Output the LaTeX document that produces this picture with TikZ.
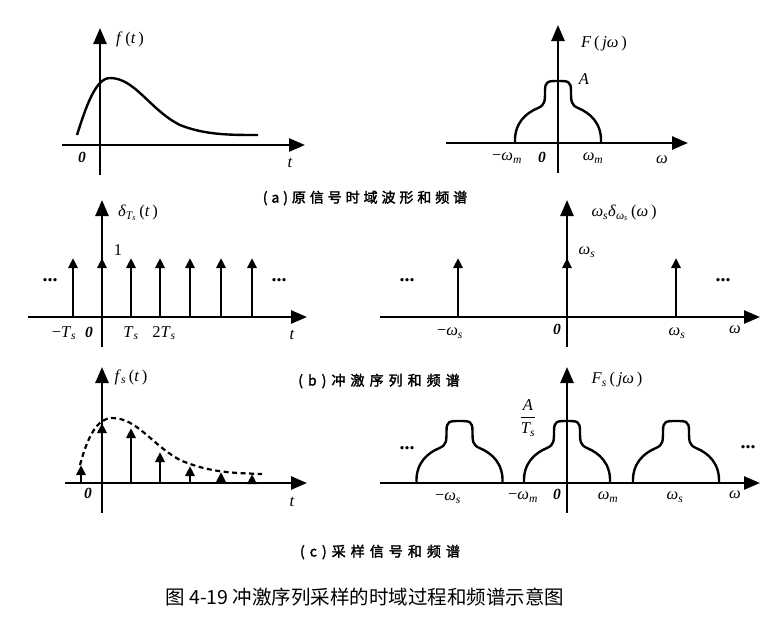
\documentclass[tikz,border=0pt]{standalone}
\usepackage{amsmath}
\usepackage{fontspec}
\setmainfont{Liberation Serif}
\newfontfamily\cjk{Noto Sans CJK SC}
\newfontfamily\cjkb[FakeBold=2,LetterSpace=28]{Noto Sans CJK SC}
\newfontfamily\cjkbw[FakeBold=2,LetterSpace=36]{Noto Sans CJK SC}
\usetikzlibrary{arrows.meta}

\newcommand\vi[1]{\textit{#1}}
\newcommand\sbs[1]{\textsubscript{\itshape #1}}

\tikzset{
  bump/.pic={
    \draw[line width=2.4pt] (-43,0) .. controls (-44,-20) and (-32,-30) .. (-20,-35)
      .. controls (-13,-38) and (-13,-42) .. (-13,-52)
      .. controls (-13,-62) and (-10,-62) .. (0,-62)
      .. controls (10,-62) and (13,-62) .. (13,-52)
      .. controls (13,-42) and (13,-38) .. (20,-35)
      .. controls (32,-30) and (44,-20) .. (43,0);
  }
}

\begin{document}
\begin{tikzpicture}[x=1pt,y=-1pt,
    axis/.style={-{Triangle[length=16pt,width=13pt]},line width=2.6pt},
    impulse/.style={-{Triangle[length=10pt,width=9pt]},line width=2.6pt},
    lbl/.style={inner sep=0pt,font=\fontsize{16.5}{18}\selectfont},
    zero/.style={inner sep=0pt,font=\fontsize{15.5}{16}\selectfont\bfseries\itshape},
    dotsx/.style={inner sep=0pt,font=\fontsize{20}{20}\selectfont\bfseries},
    captext/.style={inner sep=0pt,font=\fontsize{14}{16}\selectfont\cjkb},
    captextw/.style={inner sep=0pt,font=\fontsize{14}{16}\selectfont\cjkbw}]
  \useasboundingbox (0,0) rectangle (784,619);

  % (a) original signal
  \coordinate (aLw) at (62,145);  \coordinate (aLe) at (305,145);
  \coordinate (aLs) at (100,175); \coordinate (aLn) at (100,28);
  \draw[axis] (aLw) -- (aLe);
  \draw[axis] (aLs) -- (aLn);
  \draw[line width=2.4pt] (77,135) .. controls (85,110) and (95,78) .. (110,78)
    .. controls (135,78) and (150,110) .. (180,125)
    .. controls (205,135) and (230,135) .. (258,135);
  \node[lbl] (aLf) at (130,39) {\vi{f}\,(\vi{t}\,)};
  \node[zero] (aLo) at (82,157) {0};
  \node[lbl] (aLt) at (290,163) {\vi{t}};

  \coordinate (aRw) at (446,143); \coordinate (aRe) at (688,143);
  \coordinate (aRs) at (558,173); \coordinate (aRn) at (558,25);
  \draw[axis] (aRw) -- (aRe);
  \draw[axis] (aRs) -- (aRn);
  \pic at (558,143) {bump};
  \node[lbl] (aRF) at (604,44) {\vi{F}\,(\,\vi{jω}\,)};
  \node[lbl] (aRA) at (584,79) {\vi{A}};
  \node[lbl] (aRm) at (507,158) {−\vi{ω}\sbs{m}};
  \node[zero] (aRo) at (542,157) {0};
  \node[lbl] (aRp) at (593,158) {\vi{ω}\sbs{m}};
  \node[lbl] (aRom) at (662,160) {\vi{ω}};
  \node[captext] (capA) at (365,198) {(a)原信号时域波形和频谱};

  % (b) impulse train
  \coordinate (bLw) at (28,317);  \coordinate (bLe) at (307,317);
  \coordinate (bLs) at (102,347); \coordinate (bLn) at (102,200);
  \draw[axis] (bLw) -- (bLe);
  \draw[axis] (bLs) -- (bLn);
  \foreach \x in {73,102,131,160,190,221,252}
    \draw[impulse] (\x,317) -- (\x,258);
  \node[lbl] (bLd) at (138,213) {\vi{δ}\textsubscript{\itshape T\textsubscript{s}}\,(\vi{t}\,)};
  \node[lbl] (bLone) at (118,250) {1};
  \node[dotsx] (bLl) at (50,280) {...};
  \node[dotsx] (bLr) at (279,280) {...};
  \node[lbl] (bLm) at (64,333) {−\vi{T}\sbs{s}};
  \node[zero] (bLo) at (89,332) {0};
  \node[lbl] (bLp) at (131,333) {\vi{T}\sbs{s}};
  \node[lbl] (bLq) at (164,333) {2\vi{T}\sbs{s}};
  \node[lbl] (bLt) at (292,335) {\vi{t}};

  \coordinate (bRw) at (380,317); \coordinate (bRe) at (760,317);
  \coordinate (bRs) at (567,347); \coordinate (bRn) at (567,200);
  \draw[axis] (bRw) -- (bRe);
  \draw[axis] (bRs) -- (bRn);
  \foreach \x in {458,567,676}
    \draw[impulse] (\x,317) -- (\x,258);
  \node[lbl] (bRd) at (624,213) {\vi{ω}\sbs{s}\vi{δ}\textsubscript{\itshape ω\textsubscript{s}}\,(\vi{ω}\,)};
  \node[lbl] (bRh) at (587,252) {\vi{ω}\sbs{s}};
  \node[dotsx] (bRl) at (407,280) {...};
  \node[dotsx] (bRr) at (723,280) {...};
  \node[lbl] (bRm) at (450,333) {−\vi{ω}\sbs{s}};
  \node[zero] (bRo) at (557,329) {0};
  \node[lbl] (bRp) at (677,333) {\vi{ω}\sbs{s}};
  \node[lbl] (bRom) at (735,330) {\vi{ω}};
  \node[captextw] (capB) at (379,381) {(b)冲激序列和频谱};

  % (c) sampled signal
  \coordinate (cLw) at (65,483);  \coordinate (cLe) at (307,483);
  \coordinate (cLs) at (102,513); \coordinate (cLn) at (102,367);
  \draw[axis] (cLw) -- (cLe);
  \draw[axis] (cLs) -- (cLn);
  \draw[line width=2.2pt,dash pattern=on 5pt off 3.5pt]
    (80,465) .. controls (88,435) and (98,418) .. (112,418)
    .. controls (137,418) and (152,445) .. (180,460)
    .. controls (210,473) and (235,473) .. (262,474);
  \foreach \x/\y in {81/465,102/423,131/428,160/452,190/466,221/472,252/474}
    \draw[impulse] (\x,483) -- (\x,\y);
  \node[lbl] (cLf) at (131,377) {\vi{f}\sbs{s}\,(\vi{t}\,)};
  \node[zero] (cLo) at (88,493) {0};
  \node[lbl] (cLt) at (292,502) {\vi{t}};

  \coordinate (cRw) at (380,483); \coordinate (cRe) at (760,483);
  \coordinate (cRs) at (567,513); \coordinate (cRn) at (567,367);
  \draw[axis] (cRw) -- (cRe);
  \draw[axis] (cRs) -- (cRn);
  \foreach \c in {459.5,567,676}
    \pic at (\c,483) {bump};
  \node[lbl] (cRF) at (617,380) {\vi{F}\sbs{s}\,(\,\vi{jω}\,)};
  \node[lbl] (cRA) at (528,418) {$\dfrac{\text{\itshape A}}{\text{\itshape T\textsubscript{s}}}$};
  \node[dotsx] (cRl) at (407,448) {...};
  \node[dotsx] (cRr) at (748,447) {...};
  \node[lbl] (cRm) at (448,498) {−\vi{ω}\sbs{s}};
  \node[lbl] (cRmm) at (523,497) {−\vi{ω}\sbs{m}};
  \node[zero] (cRo) at (557,494) {0};
  \node[lbl] (cRp) at (608,497) {\vi{ω}\sbs{m}};
  \node[lbl] (cRq) at (675,497) {\vi{ω}\sbs{s}};
  \node[lbl] (cRom) at (735,495) {\vi{ω}};
  \node[captextw] (capC) at (380,552) {(c)采样信号和频谱};

  \node[inner sep=0pt,font=\fontsize{19.5}{22}\selectfont\cjk] (title) at (365,597)
    {图 4-19 冲激序列采样的时域过程和频谱示意图};
\end{tikzpicture}
\end{document}
